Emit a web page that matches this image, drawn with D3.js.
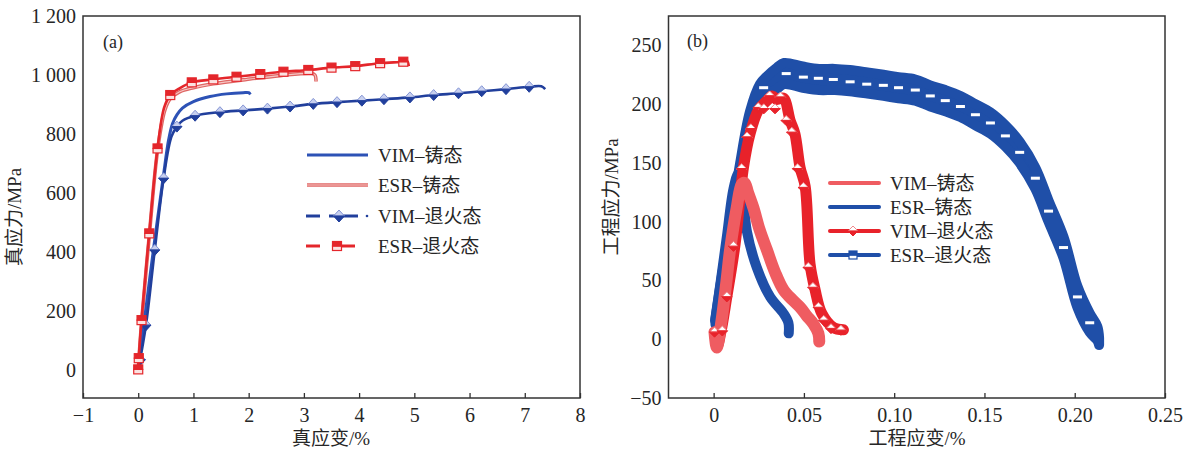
<!DOCTYPE html>
<html>
<head>
<meta charset="utf-8">
<script src="https://cdn.jsdelivr.net/npm/d3@7"></script>
<style>
  body { margin: 0; background: #fff; }
  text { font-family: 'Liberation Serif', 'Noto Sans CJK SC', serif; fill: #262626; }
</style>
</head>
<body>
<svg id="chart" width="1189" height="450"></svg>
<script>
// ---------- (a) true stress–strain ----------
const strainTicksA = [-1, 0, 1, 2, 3, 4, 5, 6, 7, 8];
const strainLabelsA = ["\u22121", "0", "1", "2", "3", "4", "5", "6", "7", "8"];
const stressTicksA = [0, 200, 400, 600, 800, 1000, 1200];
const stressLabelsA = ["0", "200", "400", "600", "800", "1 000", "1 200"];

// [true strain %, true stress MPa]
const vimCastA = [[0, 0], [0.1, 150], [0.27, 400], [0.45, 650], [0.55, 780], [0.62, 835], [0.7, 865],
  [0.8, 888], [1.0, 910], [1.3, 927], [1.6, 936], [1.9, 940], [2.0, 940], [2.03, 934]];
const esrCastA = [[0, 0], [0.06, 160], [0.2, 455], [0.35, 745], [0.48, 880], [0.58, 920], [0.75, 943],
  [1.0, 957], [1.36, 970], [1.96, 985], [2.57, 998], [3.14, 1005], [3.2, 1000], [3.22, 978]];
const vimAnnealA = [[0, 0], [0.14, 152], [0.3, 407], [0.46, 650], [0.6, 790], [0.7, 825], [0.8, 845],
  [1.03, 862], [1.48, 874], [1.9, 880], [2.34, 886], [2.75, 893], [3.17, 902], [3.6, 908], [4.05, 913],
  [4.45, 918], [4.92, 924], [5.35, 932], [5.8, 938], [6.22, 945], [6.66, 952], [7.08, 960], [7.3, 962], [7.37, 952]];
const vimAnnealMarksA = [[0.04, 35], [0.14, 152], [0.3, 407], [0.46, 650], [0.7, 825], [1.03, 862], [1.48, 874],
  [1.9, 880], [2.34, 886], [2.75, 893], [3.17, 902], [3.6, 908], [4.05, 913], [4.45, 918], [4.92, 924],
  [5.35, 932], [5.8, 938], [6.22, 945], [6.66, 952], [7.08, 960]];
const esrAnnealA = [[0, 0], [0.01, 40], [0.06, 169], [0.2, 463], [0.35, 751], [0.47, 890], [0.58, 932],
  [0.75, 955], [0.97, 975], [1.36, 985], [1.78, 994], [2.21, 1003], [2.63, 1011], [3.08, 1017], [3.5, 1025],
  [3.93, 1030], [4.38, 1040], [4.8, 1045], [4.87, 1047], [4.9, 1030]];
const esrAnnealMarksA = [[0, 2], [0.01, 40], [0.06, 169], [0.2, 463], [0.35, 751], [0.58, 932], [0.97, 975],
  [1.36, 985], [1.78, 994], [2.21, 1003], [2.63, 1011], [3.08, 1017], [3.5, 1025], [3.93, 1030],
  [4.38, 1040], [4.8, 1045]];

// ---------- (b) engineering stress–strain ----------
const strainTicksB = [0, 0.05, 0.10, 0.15, 0.20, 0.25];
const strainLabelsB = ["0", "0.05", "0.10", "0.15", "0.20", "0.25"];
const stressTicksB = [-50, 0, 50, 100, 150, 200, 250];
const stressLabelsB = ["\u221250", "0", "50", "100", "150", "200", "250"];

// [engineering strain, engineering stress MPa]
const vimCastB = [[0.0005, 6], [0.0017, -7], [0.004, 12], [0.007, 48], [0.0091, 76], [0.0128, 112],
  [0.0156, 132], [0.0172, 133], [0.019, 125], [0.022, 112], [0.0255, 93], [0.0295, 76], [0.0340, 57],
  [0.0387, 42], [0.044, 33], [0.048, 27], [0.0515, 20], [0.0553, 13], [0.058, 5], [0.0585, -2]];
const esrCastB = [[0.0008, 16], [0.004, 50], [0.0073, 87], [0.011, 128], [0.0137, 141], [0.0155, 133],
  [0.0184, 92], [0.0239, 61], [0.0313, 36], [0.0387, 22], [0.0414, 14], [0.0416, 5]];
const vimAnnealB = [[0.0005, 6], [0.002, -6], [0.004, 6], [0.0073, 36], [0.0119, 81], [0.0165, 146],
  [0.0202, 175], [0.0248, 195], [0.0295, 203], [0.0325, 207], [0.035, 204], [0.0387, 205], [0.0424, 186],
  [0.045, 175], [0.0479, 146], [0.0507, 130], [0.0534, 64], [0.0562, 42], [0.0599, 22], [0.0663, 10], [0.0719, 8]];
const vimAnnealMarksB = [[0.0005, 6], [0.0048, 7], [0.0073, 36], [0.011, 79], [0.0155, 145], [0.0185, 172],
  [0.0206, 179], [0.0247, 197], [0.0278, 196], [0.031, 207], [0.034, 196], [0.037, 206], [0.0402, 186],
  [0.0433, 176], [0.0465, 145], [0.0497, 129], [0.0524, 61], [0.055, 44], [0.058, 27], [0.061, 16],
  [0.065, 9], [0.0705, 7.6]];
const esrAnnealB = [[0.001, 15], [0.005, 55], [0.009, 90], [0.0147, 146], [0.0202, 189], [0.0257, 210],
  [0.0297, 216], [0.035, 222], [0.039, 226], [0.0494, 223], [0.0584, 221], [0.0671, 221], [0.0754, 220],
  [0.0852, 218], [0.0941, 216], [0.1024, 214], [0.1117, 212], [0.12, 207], [0.1283, 203], [0.1367, 198],
  [0.145, 191], [0.1533, 184], [0.1616, 173], [0.1695, 159], [0.1782, 137], [0.1855, 109], [0.1938, 78],
  [0.2015, 36], [0.2083, 14], [0.2125, 5], [0.2135, -2]];
// half-width of the serrated band, MPa, at each point above
const esrAnnealSpreadB = [2, 3, 3, 4, 5, 7, 8, 9, 9, 9, 9, 9, 9, 9, 9, 9, 9, 9, 9, 9, 9, 9, 9, 9, 9, 9, 9,
  9, 8, 6, 3];
const esrAnnealMarksB = [[0.0277, 214], [0.0402, 226], [0.0497, 223], [0.058, 222], [0.0663, 221],
  [0.0756, 219], [0.0848, 217], [0.094, 216], [0.1024, 214], [0.1117, 212], [0.12, 207], [0.1283, 203],
  [0.1367, 198], [0.145, 191], [0.1533, 184], [0.1616, 173], [0.1695, 159], [0.1782, 137], [0.1855, 109],
  [0.1938, 78], [0.2015, 36], [0.2083, 14]];

const legendLabels = ["VIM\u2013铸态", "ESR\u2013铸态", "VIM\u2013退火态", "ESR\u2013退火态"];

// ---------- colours ----------
const C = {
  blueA: "#2d52b6", navyA: "#213f9c", diamondTop: "#c8d0ef", diamondEdge: "#8394d4",
  redA: "#e4262b", redCastOuter: "#df6664", redCastInner: "#f7c6c4", squareLow: "#fbe2e1",
  pinkB: "#ef5c61", blueB: "#1f4fa8", redB: "#e8222a", frame: "#333"
};

const svg = d3.select("#chart");
svg.append("rect").attr("width", 1189).attr("height", 450).attr("fill", "#fff");

// scales
const xA = d3.scaleLinear().domain([-1, 8]).range([83, 580]);
const yA = d3.scaleLinear().domain([-95, 1200]).range([398, 16]);
const xB = d3.scaleLinear().domain([-0.025, 0.25]).range([668.5, 1165]);
const yB = d3.scaleLinear().domain([-50, 275]).range([398, 16]);

function frame(x, y, xt, xl, yt, yl) {
  const [x0, x1] = x.range(), [y0, y1] = y.range();
  const g = svg.append("g");
  const ax = d3.axisBottom(x).tickValues(xt).tickFormat((d, i) => xl[i]).tickSize(-5).tickPadding(10);
  g.append("g").attr("transform", `translate(0,${y0})`).call(ax)
    .call(s => s.select(".domain").remove())
    .call(s => s.selectAll("line").attr("stroke", C.frame).attr("stroke-width", 1.3))
    .call(s => s.selectAll("text").attr("font-size", 20).attr("fill", "#262626")
      .style("font-family", "'Liberation Serif', serif"));
  const ay = d3.axisLeft(y).tickValues(yt).tickFormat((d, i) => yl[i]).tickSize(0).tickPadding(7);
  g.append("g").attr("transform", `translate(${x0},0)`).call(ay)
    .call(s => s.select(".domain").remove())
    .call(s => s.selectAll("text").attr("font-size", 20).attr("fill", "#262626")
      .style("font-family", "'Liberation Serif', serif"));
  g.append("rect").attr("x", x0).attr("y", y1).attr("width", x1 - x0).attr("height", y0 - y1)
    .attr("fill", "none").attr("stroke", C.frame).attr("stroke-width", 1.5);
}

frame(xA, yA, strainTicksA, strainLabelsA, stressTicksA, stressLabelsA);
frame(xB, yB, strainTicksB, strainLabelsB, stressTicksB, stressLabelsB);

// axis titles and panel tags
svg.append("text").attr("x", 331).attr("y", 445).attr("text-anchor", "middle").attr("font-size", 19).text("真应变/%");
svg.append("text").attr("transform", "translate(21,217) rotate(-90)").attr("text-anchor", "middle").attr("font-size", 19).text("真应力/MPa");
svg.append("text").attr("x", 917).attr("y", 445).attr("text-anchor", "middle").attr("font-size", 19).text("工程应变/%");
svg.append("text").attr("transform", "translate(618,197) rotate(-90)").attr("text-anchor", "middle").attr("font-size", 19).text("工程应力/MPa");
svg.append("text").attr("x", 103).attr("y", 48).attr("font-size", 18).text("(a)");
svg.append("text").attr("x", 687).attr("y", 47).attr("font-size", 18).text("(b)");

// ---------- marker shapes ----------
function diamond(g, cx, cy, w, h, top, bottom, edge) {
  g.append("path").attr("d", `M${cx - w / 2},${cy}L${cx},${cy - h / 2}L${cx + w / 2},${cy}Z`)
    .attr("fill", top).attr("stroke", edge).attr("stroke-width", 1);
  g.append("path").attr("d", `M${cx - w / 2},${cy}L${cx},${cy + h / 2}L${cx + w / 2},${cy}Z`)
    .attr("fill", bottom).attr("stroke", bottom).attr("stroke-width", 1);
}
function square(g, cx, cy, s, top, bottom, edge) {
  g.append("rect").attr("x", cx - s / 2).attr("y", cy).attr("width", s).attr("height", s / 2)
    .attr("fill", bottom).attr("stroke", edge).attr("stroke-width", 1.2);
  g.append("rect").attr("x", cx - s / 2).attr("y", cy - s / 2).attr("width", s).attr("height", s / 2)
    .attr("fill", top).attr("stroke", top).attr("stroke-width", 1.2);
}

// ---------- panel (a) curves ----------
const lineA = d3.line().x(d => xA(d[0])).y(d => yA(d[1])).curve(d3.curveCatmullRom.alpha(0.5));
const gA = svg.append("g");
gA.append("path").attr("d", lineA(esrCastA)).attr("fill", "none").attr("stroke", C.redCastOuter).attr("stroke-width", 3.6);
gA.append("path").attr("d", lineA(esrCastA)).attr("fill", "none").attr("stroke", C.redCastInner).attr("stroke-width", 1.1);
gA.append("path").attr("d", lineA(vimCastA)).attr("fill", "none").attr("stroke", C.blueA).attr("stroke-width", 3);
gA.append("path").attr("d", lineA(vimAnnealA)).attr("fill", "none").attr("stroke", C.navyA).attr("stroke-width", 2.6);
vimAnnealMarksA.forEach(d => diamond(gA, xA(d[0]), yA(d[1]), 10, 11, C.diamondTop, C.navyA, C.diamondEdge));
gA.append("path").attr("d", lineA(esrAnnealA)).attr("fill", "none").attr("stroke", C.redA).attr("stroke-width", 2.6);
esrAnnealMarksA.forEach(d => square(gA, xA(d[0]), yA(d[1]), 9, C.redA, C.squareLow, C.redA));

// legend (a)
const legA = svg.append("g");
const rowsA = [155, 185, 216, 246];
legendLabels.forEach((t, i) => {
  legA.append("text").attr("x", 378).attr("y", rowsA[i]).attr("dy", "0.35em").attr("font-size", 19).text(t);
});
legA.append("line").attr("x1", 307).attr("x2", 368).attr("y1", rowsA[0]).attr("y2", rowsA[0]).attr("stroke", C.blueA).attr("stroke-width", 3);
legA.append("line").attr("x1", 307).attr("x2", 368).attr("y1", rowsA[1]).attr("y2", rowsA[1]).attr("stroke", C.redCastOuter).attr("stroke-width", 3.6);
legA.append("line").attr("x1", 307).attr("x2", 368).attr("y1", rowsA[1]).attr("y2", rowsA[1]).attr("stroke", C.redCastInner).attr("stroke-width", 1.1);
legA.append("line").attr("x1", 306).attr("x2", 320).attr("y1", rowsA[2]).attr("y2", rowsA[2]).attr("stroke", C.navyA).attr("stroke-width", 3);
legA.append("line").attr("x1", 329).attr("x2", 358).attr("y1", rowsA[2]).attr("y2", rowsA[2]).attr("stroke", C.navyA).attr("stroke-width", 3);
legA.append("circle").attr("cx", 367).attr("cy", rowsA[2]).attr("r", 1.3).attr("fill", C.navyA);
diamond(legA, 339, rowsA[2], 11, 12, C.diamondTop, C.navyA, C.diamondEdge);
legA.append("line").attr("x1", 306).attr("x2", 320).attr("y1", rowsA[3]).attr("y2", rowsA[3]).attr("stroke", C.redA).attr("stroke-width", 3);
legA.append("line").attr("x1", 333).attr("x2", 355).attr("y1", rowsA[3]).attr("y2", rowsA[3]).attr("stroke", C.redA).attr("stroke-width", 3);
square(legA, 337, rowsA[3], 9, C.redA, C.squareLow, C.redA);

// ---------- panel (b) curves ----------
const lineB = d3.line().x(d => xB(d[0])).y(d => yB(d[1])).curve(d3.curveCatmullRom.alpha(0.5));
const bandB = d3.area().x(d => xB(d[0]))
  .y0((d, i) => yB(d[1] - esrAnnealSpreadB[i])).y1((d, i) => yB(d[1] + esrAnnealSpreadB[i]))
  .curve(d3.curveCatmullRom.alpha(0.5));
const gB = svg.append("g").attr("stroke-linejoin", "round").attr("stroke-linecap", "round");
gB.append("path").attr("d", bandB(esrAnnealB)).attr("fill", C.blueB).attr("stroke", C.blueB).attr("stroke-width", 10);
gB.append("path").attr("d", lineB(esrCastB)).attr("fill", "none").attr("stroke", C.blueB).attr("stroke-width", 10);
gB.append("path").attr("d", lineB(vimAnnealB)).attr("fill", "none").attr("stroke", C.redB).attr("stroke-width", 11);
gB.append("path").attr("d", lineB(vimCastB)).attr("fill", "none").attr("stroke", C.pinkB).attr("stroke-width", 12);
esrAnnealMarksB.forEach(d => {
  gB.append("rect").attr("x", xB(d[0]) - 4.5).attr("y", yB(d[1]) - 1.5).attr("width", 9).attr("height", 3)
    .attr("fill", "#fff").attr("stroke", "none");
});
vimAnnealMarksB.forEach(d => diamond(gB, xB(d[0]), yB(d[1]), 10, 10, "#fff", C.redB, "#f08a8d"));

// legend (b)
const legB = svg.append("g");
const rowsB = [183, 207, 231, 255];
const colorsB = [C.pinkB, C.blueB, C.redB, C.blueB];
legendLabels.forEach((t, i) => {
  legB.append("text").attr("x", 890).attr("y", rowsB[i]).attr("dy", "0.35em").attr("font-size", 19).text(t);
  legB.append("line").attr("x1", 830).attr("x2", 879).attr("y1", rowsB[i]).attr("y2", rowsB[i])
    .attr("stroke", colorsB[i]).attr("stroke-width", 4).attr("stroke-linecap", "round");
});
diamond(legB, 853, rowsB[2], 10, 10, "#fff", C.redB, "#f08a8d");
square(legB, 853, rowsB[3], 8, C.blueB, "#fff", C.blueB);
</script>
</body>
</html>
